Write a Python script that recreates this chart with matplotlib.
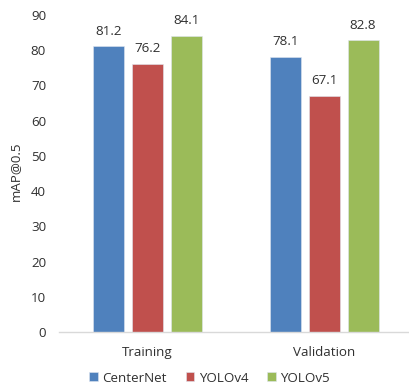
import matplotlib
matplotlib.use("Agg")
import matplotlib.pyplot as plt
import numpy as np

plt.rcParams['font.family'] = ['Open Sans', 'DejaVu Sans']

categories = ["Training", "Validation"]
models = ["CenterNet", "YOLOv4", "YOLOv5"]
centernet = [81.2, 78.1]
yolov4 = [76.2, 67.1]
yolov5 = [84.1, 82.8]
yticks = [0, 10, 20, 30, 40, 50, 60, 70, 80, 90]

colors = ["#4F81BD", "#C0504D", "#9BBB59"]
text_color = "#303030"
fs = 9.6

W, H, DPI = 409, 388, 100
fig = plt.figure(figsize=(W / DPI, H / DPI), dpi=DPI)
ax = fig.add_axes([58.8 / W, 1 - 332 / H, (412.7 - 58.8) / W, (332 - 15) / H])

x = np.arange(len(categories))
width = 0.175
step = 0.22
series = [centernet, yolov4, yolov5]
for i, (vals, name, c) in enumerate(zip(series, models, colors)):
    bars = ax.bar(x + (i - 1) * step, vals, width, color=c, label=name,
                  edgecolor="#dfe6f0", linewidth=0.4, zorder=2)
    for b, v in zip(bars, vals):
        ax.text(b.get_x() + b.get_width() / 2, v + 2.4, f"{v:.1f}",
                ha="center", va="bottom", fontsize=fs, color=text_color)

ax.set_xlim(-0.5, 1.5)
ax.set_ylim(0, 90)
ax.set_yticks(yticks)
ax.set_xticks(x)
ax.set_xticklabels(categories)
ax.tick_params(axis="both", length=0, labelsize=fs, labelcolor=text_color)
ax.tick_params(axis="y", pad=9.2)
ax.tick_params(axis="x", pad=10)
for s in ["top", "right", "left"]:
    ax.spines[s].set_visible(False)
ax.spines["bottom"].set_color("#d9d9d9")
ax.spines["bottom"].set_linewidth(1.0)

fig.text(15.5 / W, 1 - 171.5 / H, "mAP@0.5", rotation=90, ha="center", va="center",
         fontsize=fs, color=text_color)

fig.legend(loc="center", bbox_to_anchor=(209.5 / W, 1 - 378 / H), ncol=3,
           frameon=False, fontsize=fs, handlelength=0.65, handleheight=0.65,
           handletextpad=0.35, columnspacing=1.4, labelcolor=text_color)

fig.savefig("out.png", dpi=DPI)
